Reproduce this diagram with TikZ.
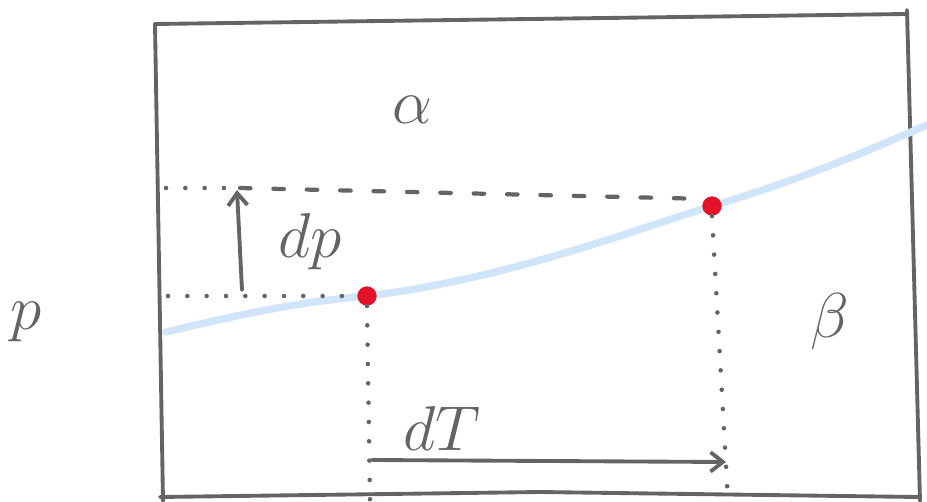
\documentclass[tikz,border=0pt]{standalone}
\usepackage{amsmath,amssymb}
\usepackage{tikz}
\usetikzlibrary{arrows.meta,calc,positioning}
\definecolor{sketchgrey}{RGB}{100,100,100}
\definecolor{phaseblue}{RGB}{208,228,250}
\definecolor{pointred}{RGB}{228,18,40}

\tikzset{
 sketch/.style={sketchgrey,line width=2.2pt,line cap=round,line join=round},
 dots/.style={sketchgrey,line width=2.6pt,line cap=round,dash pattern=on 0pt off 11pt},
 dashes/.style={sketchgrey,line width=2.4pt,line cap=round,dash pattern=on 6pt off 13pt},
 letter/.style={sketchgrey,font=\Huge,scale=1.45},
 state/.style={circle,fill=pointred,inner sep=0pt,minimum size=11pt}
}

\begin{document}
\begin{tikzpicture}[x=0.02cm,y=-0.02cm,>={Straight Barb[length=7pt,width=11pt]}]
 \useasboundingbox (0,0) rectangle (927,501);
 % box
 \draw[sketch] (163,501)--(155,24)--(905,14);
 \draw[sketch] (907,10)--(920,501);
 \draw[sketch] (160,497)--(540,492)--(918,497);
 % coexistence line
 \draw[phaseblue,line width=4.2pt,line cap=round]
  (166,332) .. controls (250,312) and (300,302) .. (367,296)
  .. controls (500,280) and (620,235) .. (712,206)
  .. controls (800,180) and (870,150) .. (927,125);
 % the two states
 \node[state] (s1) at (367,296) {};
 \node[state] (s2) at (712,206) {};
 \coordinate (l1) at (168,296);
 \coordinate (l2) at (166,188);
 \coordinate (b1) at (370,501);
 \coordinate (b2) at (728,501);
 % guide lines
 \draw[dots] (l1)--(s1.west);
 \draw[dots] (l2)--(240,188);
 \draw[dashes] (240,188)--(s2.north west);
 \draw[dots] (s1.south)--(b1);
 \draw[dots] (s2.south)--(b2);
 % increments
 \coordinate (p0) at (242,290);
 \coordinate (p1) at (237,190);
 \draw[sketch,->] (p0)--(p1);
 \coordinate (t0) at (372,460);
 \coordinate (t1) at (726,462);
 \draw[sketch,->] (t0)--(t1);
 % labels
 \node[letter] (dp) at (310,242) {$dp$};
 \node[letter] (dT) at (442,428) {$dT$};
 \node[letter] (alpha) at (412,110) {$\alpha$};
 \node[letter] (beta) at (830,322) {$\beta$};
 \node[letter] (press) at (26,322) {$p$};
\end{tikzpicture}
\end{document}
